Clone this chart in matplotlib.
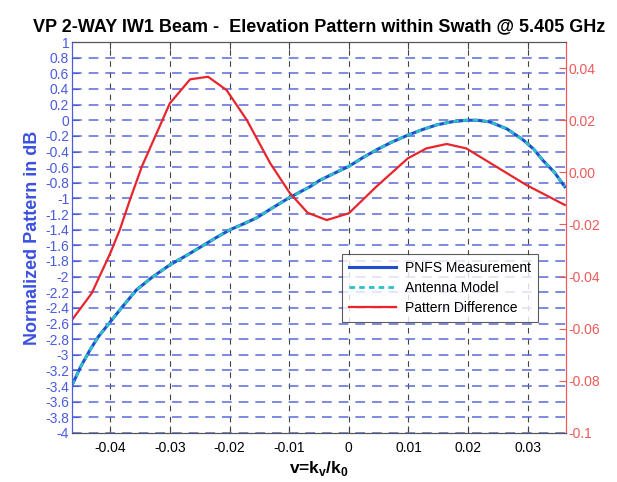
import matplotlib
matplotlib.use("Agg")
import matplotlib.pyplot as plt
import numpy as np

plt.rcParams['font.family'] = ['Liberation Sans', 'DejaVu Sans']
plt.rcParams['mathtext.fontset'] = 'custom'
plt.rcParams['mathtext.rm'] = 'Liberation Sans'
plt.rcParams['mathtext.bf'] = 'Liberation Sans:bold'
plt.rcParams['lines.scale_dashes'] = False

# values
v_pattern = [-0.0464, -0.0450, -0.0434, -0.0420, -0.0400, -0.0380, -0.0356,
             -0.0330, -0.0300, -0.0270, -0.0244, -0.0220, -0.0199, -0.0175,
             -0.0155, -0.0130, -0.0102, -0.0080, -0.0065, -0.0049, -0.0025,
             0.0, 0.0023, 0.0046, 0.0072, 0.0099, 0.0123, 0.0147, 0.0172,
             0.0197, 0.0215, 0.0236, 0.0265, 0.0292, 0.0310, 0.0325, 0.0345,
             0.0362]
pnfs_db = [-3.39, -3.16, -2.94, -2.77, -2.58, -2.39, -2.17,
           -2.01, -1.85, -1.72, -1.60, -1.49, -1.40, -1.32,
           -1.25, -1.13, -1.00, -0.91, -0.85, -0.77, -0.68,
           -0.59, -0.48, -0.38, -0.28, -0.19, -0.12, -0.06, -0.02,
           0.0, 0.0, -0.02, -0.11, -0.25, -0.37, -0.51, -0.67,
           -0.85]
model_db = [-3.39, -3.16, -2.94, -2.77, -2.58, -2.39, -2.17,
            -2.01, -1.85, -1.72, -1.60, -1.49, -1.40, -1.32,
            -1.25, -1.13, -1.00, -0.91, -0.85, -0.77, -0.68,
            -0.59, -0.48, -0.38, -0.28, -0.19, -0.12, -0.06, -0.02,
            0.0, 0.0, -0.02, -0.11, -0.25, -0.37, -0.51, -0.67,
            -0.85]

v_diff = [-0.0464, -0.0431, -0.0400, -0.0384, -0.0367, -0.0347, -0.0300,
          -0.0266, -0.0236, -0.0205, -0.0171, -0.0132, -0.0099, -0.0069,
          -0.0037, 0.0, 0.0046, 0.0099, 0.0130, 0.0164, 0.0197, 0.0247,
          0.0298, 0.0362]
diff = [-0.0566, -0.0464, -0.0311, -0.0221, -0.0106, 0.0022, 0.0265,
        0.0357, 0.0367, 0.0316, 0.0201, 0.0036, -0.0079, -0.0155,
        -0.0183, -0.0157, -0.0055, 0.0054, 0.0092, 0.0109, 0.0092, 0.0022,
        -0.0049, -0.0125]

left_ticks = np.round(np.arange(-4, 1.01, 0.2), 1)
left_labels = ['%g' % t for t in left_ticks]
right_ticks = [-0.1, -0.08, -0.06, -0.04, -0.02, 0.0, 0.02, 0.04]
right_labels = ['-0.1', '-0.08', '-0.06', '-0.04', '-0.02', '0.00', '0.02', '0.04']
x_ticks = [-0.04, -0.03, -0.02, -0.01, 0, 0.01, 0.02, 0.03]
x_labels = ['-0.04', '-0.03', '-0.02', '-0.01', '0', '0.01', '0.02', '0.03']

blue_txt = '#4a5be0'
red_txt = '#f05a5a'

fig = plt.figure(figsize=(6.17, 4.82), dpi=100)
ax = fig.add_axes([0.1167, 0.1017, 0.8006, 0.811])
ax2 = ax.twinx()

l1, = ax.plot(v_pattern, pnfs_db, color='#1f4fd0', lw=2.2, label='PNFS Measurement')
l2, = ax.plot(v_pattern, model_db, color='#2cc0c8', lw=2.0, ls=(0, (4, 3)),
              label='Antenna Model')
l3, = ax2.plot(v_diff, diff, color='#e8252d', lw=1.6, label='Pattern Difference')

ax.set_xlim(-0.0464, 0.0364)
ax.set_ylim(-4, 1)
ax2.set_ylim(-0.1, 0.05)

ax.set_xticks(x_ticks)
ax.set_xticklabels(x_labels, fontsize=10)
ax.set_yticks(left_ticks)
ax.set_yticklabels(left_labels, fontsize=10, color=blue_txt)
ax2.set_yticks(right_ticks)
ax2.set_yticklabels(right_labels, fontsize=10, color=red_txt)

ax.tick_params(axis='x', direction='in', length=5, top=True, color='#444444', pad=6)
ax.tick_params(axis='y', direction='in', length=5, color=blue_txt, pad=2)
ax2.tick_params(axis='y', direction='in', length=5, color=red_txt, pad=2)

ax.yaxis.grid(True, color='#5a6ad8', lw=1.1, ls=(0, (7, 5)))
ax.xaxis.grid(True, color='#444444', lw=0.8, ls=(0, (4, 4)))
ax.set_axisbelow(True)

for a in (ax, ax2):
    a.spines['left'].set_color(blue_txt)
    a.spines['right'].set_color(red_txt)
    a.spines['top'].set_color('#555555')
    a.spines['bottom'].set_color('#555555')

ax.set_title('VP 2-WAY IW1 Beam -  Elevation Pattern within Swath @ 5.405 GHz',
             fontsize=13, fontweight='bold', pad=8)
ax.set_ylabel('Normalized Pattern in dB', fontsize=13, fontweight='bold',
              color='#3a50e0', labelpad=3)
ax.set_xlabel(r'v=k$_\mathbf{v}$/k$_\mathbf{0}$', fontsize=12.5, fontweight='bold',
              labelpad=3)

leg = ax2.legend(handles=[l1, l2, l3], loc='lower left',
                 bbox_to_anchor=(0.547, 0.284), borderaxespad=0, fontsize=10,
                 frameon=True, fancybox=False, handlelength=3.4, borderpad=0.5,
                 labelspacing=0.45, handletextpad=0.6)
leg.get_frame().set_edgecolor('#333333')
leg.get_frame().set_linewidth(0.8)

fig.savefig('out.png', dpi=100)
